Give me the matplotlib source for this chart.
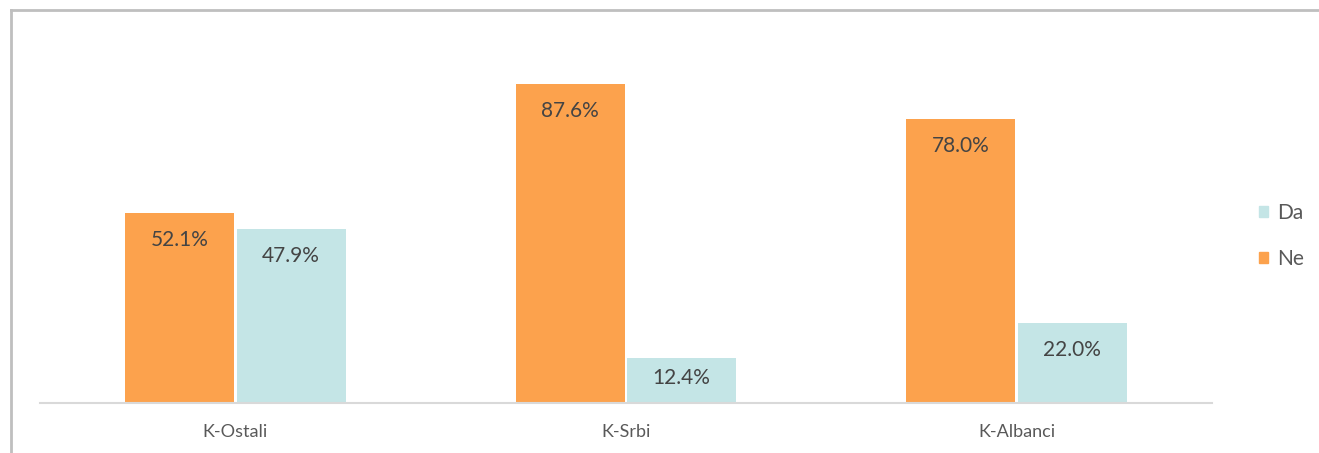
import matplotlib
matplotlib.use("Agg")
import matplotlib.pyplot as plt
from matplotlib.lines import Line2D
from matplotlib.patches import Patch
import numpy as np

categories = ["K-Ostali", "K-Srbi", "K-Albanci"]
ne_values = [52.1, 87.6, 78.0]
da_values = [47.9, 12.4, 22.0]
series_names = ["Da", "Ne"]

ORANGE = "#FCA24D"
TEAL = "#C4E5E6"
W, H = 1319, 453
fig = plt.figure(figsize=(W / 100, H / 100), dpi=100)
plt.rcParams['font.family'] = ['Lato', 'DejaVu Sans']

ax = fig.add_axes([40 / W, 50 / H, 1172 / W, 364 / H])
x = np.arange(len(categories))
bw = 0.279
off = 0.1425
b_ne = ax.bar(x - off, ne_values, bw, color=ORANGE, zorder=2)
b_da = ax.bar(x + off, da_values, bw, color=TEAL, zorder=2)
ax.set_xlim(-0.5, len(categories) - 0.5)
ax.set_ylim(0, 100)

px_per_unit = 364 / 100
for bars, vals in ((b_ne, ne_values), (b_da, da_values)):
    for rect, v in zip(bars, vals):
        hpx = v * px_per_unit
        drop = min(27, hpx * 0.45)
        ax.annotate(f"{v:.1f}%", (rect.get_x() + rect.get_width() / 2, v),
                    xytext=(0, -drop * 72 / 100), textcoords="offset points",
                    ha="center", va="center", fontsize=15, color="#444444")

for s in ["top", "right", "left"]:
    ax.spines[s].set_visible(False)
ax.spines["bottom"].set_color("#D9D9D9")
ax.spines["bottom"].set_linewidth(1.5)
ax.set_yticks([])
ax.set_xticks(x)
ax.set_xticklabels(categories, fontsize=13, color="#595959")
ax.tick_params(axis="x", length=0, pad=15)

handles = [Patch(color=TEAL), Patch(color=ORANGE)]
fig.legend(handles, series_names, loc="center left",
           bbox_to_anchor=(1240 / W, 1 - 236 / H), frameon=False,
           fontsize=15, labelcolor="#595959", handlelength=0.45,
           handleheight=0.45, handletextpad=0.45, labelspacing=1.25)

fig.add_artist(Line2D([10.5 / W, 1], [1 - 9.5 / H, 1 - 9.5 / H],
                      transform=fig.transFigure, color="#BFBFBF", lw=2))
fig.add_artist(Line2D([10.5 / W, 10.5 / W], [0, 1 - 9.5 / H],
                      transform=fig.transFigure, color="#BFBFBF", lw=2))

fig.savefig("out.png", dpi=100)
